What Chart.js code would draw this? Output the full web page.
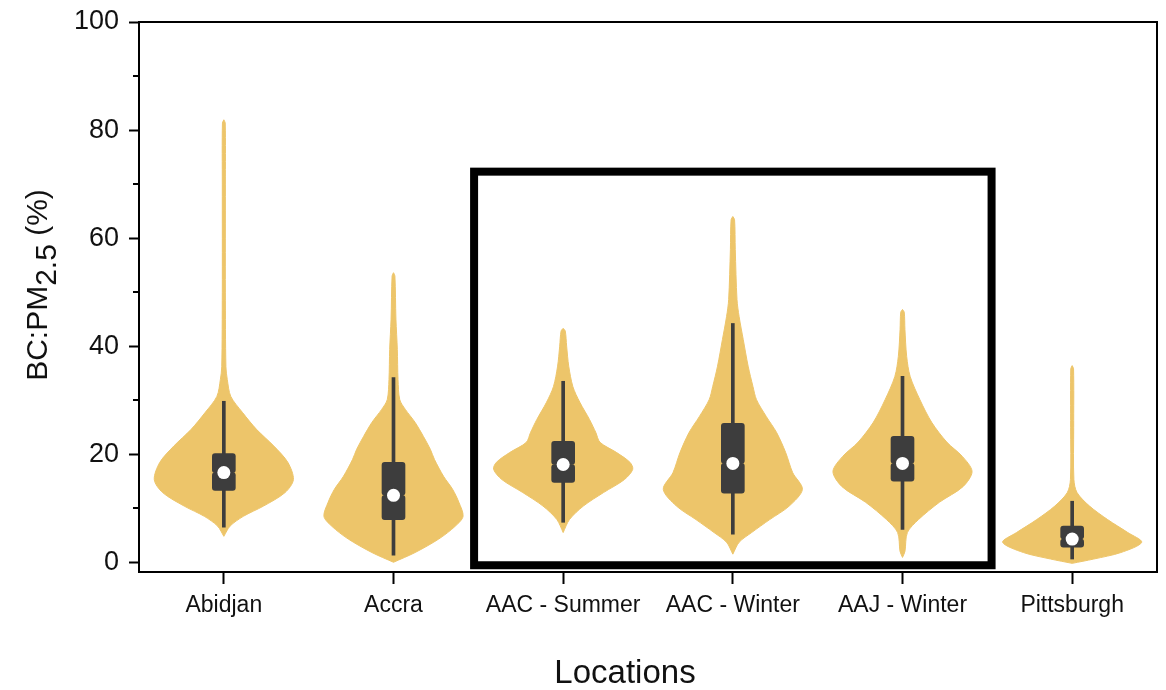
<!DOCTYPE html>
<html>
<head>
<meta charset="utf-8">
<title>BC:PM2.5 by location</title>
<style>
  html, body { margin: 0; padding: 0; background: #ffffff; }
  #wrap { width: 1166px; height: 690px; }
</style>
</head>
<body>
<div id="wrap"><canvas id="chart" width="1166" height="690"></canvas></div>
<script src="https://cdn.jsdelivr.net/npm/chart.js@4.4.1/dist/chart.umd.min.js"></script>
<script>
// ---- data ----------------------------------------------------------------
const locations = ['Abidjan', 'Accra', 'AAC - Summer', 'AAC - Winter', 'AAJ - Winter', 'Pittsburgh'];

// box-plot statistics, BC:PM2.5 (%)
const whiskerLow  = [6.5, 1.3, 7.4, 5.2, 6.1, 0.6];
const q1          = [13.3, 7.9, 14.8, 12.8, 15.0, 2.8];
const median      = [16.6, 12.4, 18.1, 18.3, 18.3, 4.3];
const q3          = [20.1, 18.5, 22.4, 25.7, 23.3, 6.7];
const whiskerHigh = [29.8, 34.2, 33.5, 44.2, 34.4, 11.3];

// kernel-density profiles: [BC:PM2.5 level (%), relative density 0..1]
const densityAbidjan = [[4.8, 0], [6.7, 0.09], [8.5, 0.28], [10.4, 0.57], [12.9, 0.88], [15.3, 1.0], [18.5, 0.92],
  [21.5, 0.72], [24.6, 0.47], [27.7, 0.27], [30.7, 0.1], [33.8, 0.05], [36.2, 0.03], [50, 0.022], [70, 0.022], [81.3, 0.02], [81.9, 0]];
const densityAccra = [[0.0, 0], [1.8, 0.31], [4.3, 0.65], [6.7, 0.89], [8.5, 1.0], [11.1, 0.94], [13.5, 0.85], [15.9, 0.72],
  [19.0, 0.59], [20.9, 0.53], [23.3, 0.43], [25.9, 0.31], [28.3, 0.17], [30.1, 0.09], [33.8, 0.065], [39.4, 0.055], [45, 0.035], [53.0, 0.02], [53.6, 0]];
const densityAacSummer = [[5.5, 0], [7.9, 0.09], [10.4, 0.29], [12.9, 0.58], [15.3, 0.88], [17.2, 1.0], [18.5, 0.96], [20.3, 0.77],
  [22.2, 0.53], [24.0, 0.47], [26.4, 0.38], [29.6, 0.24], [32.5, 0.14], [36.3, 0.08], [40.0, 0.05], [42.8, 0.03], [43.3, 0]];
const densityAacWinter = [[1.5, 0], [3.7, 0.09], [5.5, 0.27], [7.9, 0.53], [10.4, 0.81], [13.5, 1.0], [16.6, 0.86], [20.3, 0.76],
  [24.0, 0.63], [27.0, 0.48], [30.1, 0.34], [32.5, 0.29], [36.3, 0.22], [41.2, 0.15], [45.5, 0.09], [48.6, 0.06], [57.9, 0.035], [63.4, 0.025], [64.0, 0]];
const densityAajWinter = [[0.9, 0], [2.0, 0.035], [5.5, 0.07], [7.9, 0.23], [11.1, 0.53], [14.0, 0.87], [16.8, 1.0], [19.6, 0.86],
  [22.2, 0.64], [25.9, 0.42], [30.1, 0.25], [34.4, 0.11], [38.1, 0.06], [43.1, 0.035], [46.3, 0.025], [46.8, 0]];
const densityPittsburgh = [[-0.2, 0], [0.6, 0.31], [1.8, 0.70], [3.7, 1.0], [5.5, 0.80], [7.9, 0.51], [10.4, 0.25], [12.9, 0.07],
  [15.3, 0.025], [25, 0.022], [35.8, 0.02], [36.4, 0]];
const densities = [densityAbidjan, densityAccra, densityAacSummer, densityAacWinter, densityAajWinter, densityPittsburgh];

// axis ticks
const yTicks = [0, 20, 40, 60, 80, 100];
const yMinorTicks = [10, 30, 50, 70, 90];

// framed group of the Addis Ababa sites (category span and level range)
const framedFirst = 'AAC - Summer';
const framedLast = 'AAJ - Winter';
const framedLevels = [-0.55, 72.3];

// ---- styling -------------------------------------------------------------
const FONT = "'Liberation Sans', Arial, Helvetica, sans-serif";
const VIOLIN = '#EDC56A';
const BOX = '#3D3D3D';
const HALF_WIDTH = 0.41;   // widest half-violin, in category units

// closed outline: up the right edge, down the left edge
function outline(center, profile) {
  const right = profile.map(([lvl, d]) => ({ x: center + d * HALF_WIDTH, y: lvl }));
  const left = profile.slice().reverse().map(([lvl, d]) => ({ x: center - d * HALF_WIDTH, y: lvl }));
  return right.concat(left);
}

const violinSets = densities.map((profile, i) => ({
  type: 'scatter',
  label: locations[i],
  data: outline(i + 1, profile),
  showLine: true,
  fill: 'shape',
  tension: 0.3,
  pointRadius: 0,
  borderWidth: 1,
  borderColor: VIOLIN,
  backgroundColor: VIOLIN,
  order: 5
}));

const whiskerSet = {
  type: 'bar',
  data: whiskerLow.map((lo, i) => ({ x: i + 1, y: [lo, whiskerHigh[i]] })),
  backgroundColor: BOX,
  barThickness: 3,
  grouped: false,
  order: 4
};

const lowerBoxSet = {
  type: 'bar',
  data: q1.map((v, i) => ({ x: i + 1, y: [v, median[i]] })),
  backgroundColor: BOX,
  barThickness: 23,
  borderRadius: 3,
  borderSkipped: false,
  grouped: false,
  order: 3
};

const upperBoxSet = {
  type: 'bar',
  data: median.map((v, i) => ({ x: i + 1, y: [v, q3[i]] })),
  backgroundColor: BOX,
  barThickness: 23,
  borderRadius: 3,
  borderSkipped: false,
  grouped: false,
  order: 3
};

const medianSet = {
  type: 'scatter',
  data: median.map((m, i) => ({ x: i + 1, y: m })),
  pointRadius: 6.5,
  pointBackgroundColor: '#FFFFFF',
  pointBorderWidth: 0,
  showLine: false,
  order: 1
};

// frame, minor ticks, highlight box and axis titles
const decorations = {
  id: 'decorations',
  afterDraw(chart) {
    const { ctx, chartArea: a, scales: { x, y } } = chart;
    ctx.save();

    ctx.strokeStyle = '#000';
    ctx.lineWidth = 2;
    ctx.beginPath();
    ctx.moveTo(a.left - 1, a.top);
    ctx.lineTo(a.right, a.top);
    ctx.lineTo(a.right, a.bottom + 1);
    yMinorTicks.forEach(v => {
      const py = Math.round(y.getPixelForValue(v));
      ctx.moveTo(a.left - 6, py);
      ctx.lineTo(a.left, py);
    });
    ctx.stroke();

    const i0 = locations.indexOf(framedFirst) + 1;
    const i1 = locations.indexOf(framedLast) + 1;
    const xl = x.getPixelForValue(i0 - 0.525);
    const xr = x.getPixelForValue(i1 + 0.525);
    const yt = y.getPixelForValue(framedLevels[1]);
    const yb = y.getPixelForValue(framedLevels[0]);
    ctx.lineWidth = 8;
    ctx.strokeRect(xl, yt, xr - xl, yb - yt);

    ctx.fillStyle = '#111';
    ctx.font = `33px ${FONT}`;
    ctx.textAlign = 'center';
    ctx.textBaseline = 'alphabetic';
    ctx.fillText('Locations', (a.left + a.right) / 2 - 23, 683);

    ctx.translate(47, (a.top + a.bottom) / 2 - 12);
    ctx.rotate(-Math.PI / 2);
    ctx.font = `30px ${FONT}`;
    ctx.textAlign = 'left';
    const parts = [['BC:PM', 0], ['2.5', 9], [' (%)', 0]];
    const total = parts.reduce((s, [t]) => s + ctx.measureText(t).width, 0);
    let cx = -total / 2;
    parts.forEach(([t, dy]) => {
      ctx.fillText(t, cx, dy);
      cx += ctx.measureText(t).width;
    });
    ctx.restore();
  }
};

new Chart(document.getElementById('chart'), {
  type: 'scatter',
  data: { datasets: [...violinSets, whiskerSet, lowerBoxSet, upperBoxSet, medianSet] },
  options: {
    responsive: false,
    animation: false,
    events: [],
    layout: { padding: { top: 22, right: 9, left: 0, bottom: 0 } },
    plugins: { legend: { display: false }, tooltip: { enabled: false } },
    scales: {
      x: {
        type: 'linear',
        min: 0.5,
        max: 6.5,
        offset: false,
        afterBuildTicks: s => { s.ticks = locations.map((_, i) => ({ value: i + 1 })); },
        afterFit: s => { s.height = 118; s.paddingLeft = 0; s.paddingRight = 0; },
        ticks: {
          callback: (v, idx) => locations[idx],
          autoSkip: false,
          maxRotation: 0,
          padding: 8,
          color: '#111',
          font: { family: FONT, size: 23 }
        },
        grid: { offset: false, drawOnChartArea: false, drawTicks: true, tickLength: 12, tickWidth: 2, tickColor: '#000' },
        border: { display: true, color: '#000', width: 2 }
      },
      y: {
        type: 'linear',
        min: -1.8,
        max: 100,
        afterBuildTicks: s => { s.ticks = yTicks.map(v => ({ value: v })); },
        afterFit: s => { s.width = 139; s.paddingTop = 0; s.paddingBottom = 0; },
        ticks: {
          padding: 10,
          color: '#111',
          font: { family: FONT, size: 27 }
        },
        grid: { drawOnChartArea: false, drawTicks: true, tickLength: 10, tickWidth: 2, tickColor: '#000' },
        border: { display: true, color: '#000', width: 2 }
      }
    }
  },
  plugins: [decorations]
});
</script>
</body>
</html>
